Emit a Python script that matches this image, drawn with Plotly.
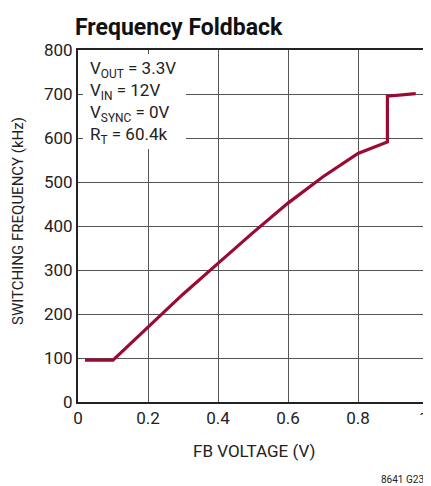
import plotly.graph_objects as go

fb_voltage = [0.02, 0.10, 0.20, 0.30, 0.40, 0.50, 0.60, 0.70, 0.80, 0.884, 0.884, 0.965]
freq_khz = [95, 95, 170, 245, 315, 385, 452, 512, 565, 591, 695, 701]

x_ticks = [0, 0.2, 0.4, 0.6, 0.8, 1]
x_tick_labels = ["0", "0.2", "0.4", "0.6", "0.8", "1"]
y_ticks = [0, 100, 200, 300, 400, 500, 600, 700, 800]

conditions = ["V<sub>OUT</sub> = 3.3V", "V<sub>IN</sub> = 12V",
              "V<sub>SYNC</sub> = 0V", "R<sub>T</sub> = 60.4k"]

FONT = "Roboto, Arial, sans-serif"
GRID = "#555555"
OFF = 8  # page body margin
W, H = 431 - OFF, 486 - OFF
# plot area in page pixels: left 78, right 428, top 50, bottom 402
L, R, T, B = 78 - OFF, W - (428 - OFF), 50 - OFF, H - (402 - OFF)
PW, PH = W - L - R, H - T - B


def px_x(p):
    return (p - OFF - L) / PW


def px_y(p):
    return (H - B - (p - OFF)) / PH


fig = go.Figure()
fig.add_trace(go.Scatter(x=fb_voltage, y=freq_khz, mode="lines",
                         line=dict(color="#9B0A33", width=3.2), showlegend=False))

# last x tick label sits at the page edge; draw it as a right-anchored annotation
shown_labels = x_tick_labels[:-1] + [""]

fig.update_layout(
    width=W, height=H,
    margin=dict(l=L, r=R, t=T, b=B),
    paper_bgcolor="white", plot_bgcolor="white",
    font=dict(family=FONT, size=17, color="#222222"),
    title=dict(text="<b>Frequency Foldback</b>", x=(75 - OFF) / W, xanchor="left",
               y=1 - (27 - OFF) / H, yanchor="middle",
               font=dict(family=FONT, size=23, color="#111111")),
    xaxis=dict(range=[0, 1], tickvals=x_ticks, ticktext=shown_labels,
               showgrid=True, gridcolor=GRID, gridwidth=1.3,
               showline=True, linecolor="#222222", linewidth=2, mirror=True,
               ticks="", zeroline=False, automargin=False),
    yaxis=dict(range=[0, 800], tickvals=y_ticks,
               showgrid=True, gridcolor=GRID, gridwidth=1.3,
               showline=True, linecolor="#222222", linewidth=2, mirror=True,
               ticks="", zeroline=False, automargin=False),
)

fig.add_annotation(xref="x", yref="paper", x=x_ticks[-1], y=px_y(418),
                   xanchor="right", yanchor="middle", showarrow=False, xshift=3,
                   text=x_tick_labels[-1], font=dict(family=FONT, size=17))

# axis titles
fig.add_annotation(xref="paper", yref="paper", x=px_x(254), y=px_y(451),
                   xanchor="center", yanchor="middle", showarrow=False,
                   text="FB VOLTAGE (V)", font=dict(family=FONT, size=17))
fig.add_annotation(xref="paper", yref="paper", x=px_x(18), y=px_y(221),
                   xanchor="center", yanchor="middle", showarrow=False, textangle=-90,
                   text="SWITCHING FREQUENCY (kHz)", font=dict(family=FONT, size=15))

# white box behind the conditions text
fig.add_shape(type="rect", xref="paper", yref="paper",
              x0=px_x(83), x1=px_x(186), y0=px_y(149), y1=px_y(54),
              fillcolor="white", line=dict(width=0), layer="above")

line_centers = [70, 92, 114, 136]
for txt, yc in zip(conditions, line_centers):
    fig.add_annotation(xref="paper", yref="paper", x=px_x(88), y=px_y(yc),
                       xanchor="left", yanchor="middle", showarrow=False,
                       text=txt, font=dict(family=FONT, size=17, color="#222222"))

fig.add_annotation(xref="paper", yref="paper", x=px_x(426), y=px_y(479),
                   xanchor="right", yanchor="middle", showarrow=False,
                   text="8641 G23", font=dict(family=FONT, size=10, color="#222222"))

fig.write_html("out.html")
